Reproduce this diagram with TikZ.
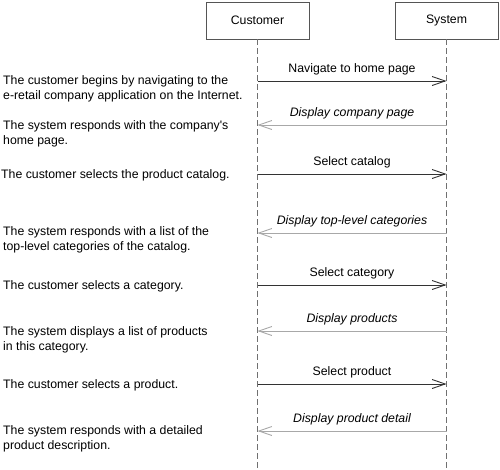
\documentclass[tikz,border=0pt]{standalone}
\usepackage{fontspec}
\setmainfont{Liberation Sans}[Ligatures=TeXOff]
\usetikzlibrary{arrows.meta}
\definecolor{fwdc}{HTML}{333333}
\definecolor{retc}{HTML}{A8A8A8}
\definecolor{lifec}{HTML}{707070}
\definecolor{boxc}{HTML}{555555}
\begin{document}
\begin{tikzpicture}[x=1pt,y=-1pt,
  font=\fontsize{12.3}{15}\selectfont,
  actor/.style={draw=boxc, line width=0.9pt, minimum width=103pt, minimum height=37pt, inner sep=0pt},
  lifeline/.style={draw=lifec, line width=0.9pt, dash pattern=on 6pt off 3pt},
  fwdmsg/.style={draw=fwdc, line width=0.9pt, -{Straight Barb[length=13pt,width=9pt,line width=0.9pt]}},
  retmsg/.style={draw=retc, line width=0.9pt, -{Straight Barb[length=13pt,width=9pt,line width=0.9pt]}},
  lab/.style={midway, above=6pt, inner sep=0pt, text=black},
  desc/.style={anchor=north west, inner sep=0pt, align=left, text=black}
]
\useasboundingbox (0,0) rectangle (500,469);
\node[actor] (cust) at (257.5,20.5) {Customer};
\node[actor] (sys) at (446.5,20.5) {System};
\coordinate (cend) at (257.5,469);
\coordinate (send) at (446.5,469);
\draw[lifeline] (cust.south) -- (cend);
\draw[lifeline] (sys.south) -- (send);

\foreach \n/\y in {1/81,2/125,3/174,4/233,5/285,6/331,7/384,8/431}{
  \coordinate (c\n) at (257.5,\y);
  \coordinate (s\n) at (446.5,\y);
}
\draw[fwdmsg] (c1) -- node[lab] {Navigate to home page} (s1);
\draw[retmsg] (s2) -- node[lab] {\itshape Display company page} (c2);
\draw[fwdmsg] (c3) -- node[lab] {Select catalog} (s3);
\draw[retmsg] (s4) -- node[lab] {\itshape Display top-level categories} (c4);
\draw[fwdmsg] (c5) -- node[lab] {Select category} (s5);
\draw[retmsg] (s6) -- node[lab] {\itshape Display products} (c6);
\draw[fwdmsg] (c7) -- node[lab] {Select product} (s7);
\draw[retmsg] (s8) -- node[lab] {\itshape Display product detail} (c8);

\node[desc] (d1) at (3,75.5) {The customer begins by navigating to the\\e-retail company application on the Internet.};
\node[desc] (d2) at (3,120) {The system responds with the company's\\home page.};
\node[desc] (d3) at (1,169) {The customer selects the product catalog.};
\node[desc] (d4) at (3,226.5) {The system responds with a list of the\\top-level categories of the catalog.};
\node[desc] (d5) at (3,280) {The customer selects a category.};
\node[desc] (d6) at (3,326) {The system displays a list of products\\in this category.};
\node[desc] (d7) at (3,379) {The customer selects a product.};
\node[desc] (d8) at (3,425) {The system responds with a detailed\\product description.};
\end{tikzpicture}
\end{document}
